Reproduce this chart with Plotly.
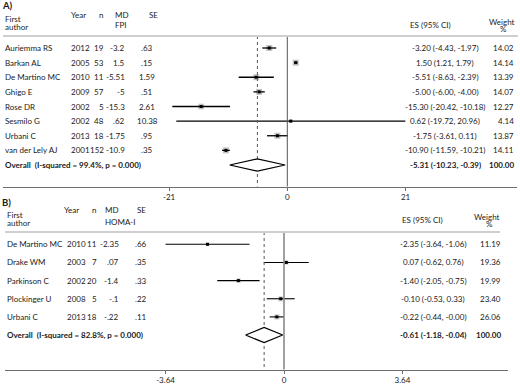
import plotly.graph_objects as go

W, H = 520, 386
FONT = "Lato"
FS = 8

# ---------------- Panel A data ----------------
authorsA = ["Auriemma RS", "Barkan AL", "De Martino MC", "Ghigo E", "Rose DR",
            "Sesmilo G", "Urbani C", "van der Lely AJ"]
yearA = ["2012", "2005", "2010", "2009", "2002", "2002", "2013", "2001"]
nA = ["19", "53", "11", "57", "5", "48", "18", "152"]
mdA = ["-3.2", "1.5", "-5.51", "-5", "-15.3", ".62", "-1.75", "-10.9"]
seA = [".63", ".15", "1.59", ".51", "2.61", "10.38", ".95", ".35"]
esA = [-3.20, 1.50, -5.51, -5.00, -15.30, 0.62, -1.75, -10.90]
loA = [-4.43, 1.21, -8.63, -6.00, -20.42, -19.72, -3.61, -11.59]
hiA = [-1.97, 1.79, -2.39, -4.00, -10.18, 20.96, 0.11, -10.21]
wA = [14.02, 14.14, 13.39, 14.07, 12.27, 4.14, 13.87, 14.11]
overallA = (-5.31, -10.23, -0.39)
overallA_label = "Overall  (I-squared = 99.4%, p = 0.000)"
ticksA = [-21, 0, 21]
ticklabelsA = ["-21", "0", "21"]

# ---------------- Panel B data ----------------
authorsB = ["De Martino MC", "Drake WM", "Parkinson C", "Plockinger U", "Urbani C"]
yearB = ["2010", "2003", "2002", "2008", "2013"]
nB = ["11", "7", "20", "5", "18"]
mdB = ["-2.35", ".07", "-1.4", "-.1", "-.22"]
seB = [".66", ".35", ".33", ".22", ".11"]
esB = [-2.35, 0.07, -1.40, -0.10, -0.22]
loB = [-3.64, -0.62, -2.05, -0.53, -0.44]
hiB = [-1.06, 0.76, -0.75, 0.33, -0.0]
wB = [11.19, 19.36, 19.99, 23.40, 26.06]
overallB = (-0.61, -1.18, -0.04)
overallB_label = "Overall  (I-squared = 82.8%, p = 0.000)"
ticksB = [-3.64, 0, 3.64]
ticklabelsB = ["-3.64", "0", "3.64"]

# ---------------- layout geometry (pixels) ----------------
def px(p):
    return p / W

def py(p):
    return 1 - p / H

# panel A: x zero at 287.3 px, 5.63 px/unit; rows from 48 px, 14.625 px apart
A = dict(x0=287.3, sx=5.63, r0=48.0, sr=14.625, xl=3, xr=517, sep=36, axis=186.5)
# panel B: x zero at 284 px, 32.55 px/unit; rows from 244 px, 18.15 px apart
B = dict(x0=284.0, sx=32.55, r0=244.3, sr=18.15, xl=5, xr=508, sep=232, axis=369.5)


def xrange_of(P):
    return [(P["xl"] - P["x0"]) / P["sx"], (P["xr"] - P["x0"]) / P["sx"]]


def yrange_of(P):
    return [(H - P["r0"]) / P["sr"], (0 - P["r0"]) / P["sr"]]


def row_of(P, p):
    return (p - P["r0"]) / P["sr"]


def fmt_es(e, l, h):
    return f"{e:.2f} ({l:.2f}, {h:.2f})"


fig = go.Figure()
annotations = []
shapes = []


def add_panel(P, xa, ya, authors, years, ns, mds, ses, es, lo, hi, w, overall,
              overall_label, box_k, box_color, zero_color, zero_width, cols, ci_width):
    rows = list(range(len(authors)))
    orow = len(authors)
    # boxes
    fig.add_trace(go.Scatter(
        x=es, y=rows, mode="markers", xaxis=xa, yaxis=ya,
        marker=dict(symbol="square", size=[box_k * v ** 0.5 for v in w],
                    color=box_color, line=dict(width=0)),
        hoverinfo="skip", showlegend=False))
    # CI lines
    xs, ys = [], []
    for r, l, h in zip(rows, lo, hi):
        xs += [l, h, None]
        ys += [r, r, None]
    fig.add_trace(go.Scatter(x=xs, y=ys, mode="lines", xaxis=xa, yaxis=ya,
                             line=dict(color="black", width=ci_width),
                             hoverinfo="skip", showlegend=False))
    # point estimates
    fig.add_trace(go.Scatter(x=es, y=rows, mode="markers", xaxis=xa, yaxis=ya,
                             marker=dict(symbol="square", size=3, color="black"),
                             hoverinfo="skip", showlegend=False))
    top = row_of(P, P["sep"])
    bot = row_of(P, P["axis"])
    # zero line
    fig.add_trace(go.Scatter(x=[0, 0], y=[top, bot], mode="lines", xaxis=xa, yaxis=ya,
                             line=dict(color=zero_color, width=zero_width),
                             hoverinfo="skip", showlegend=False))
    # overall dotted line
    fig.add_trace(go.Scatter(x=[overall[0], overall[0]], y=[top, bot], mode="lines",
                             xaxis=xa, yaxis=ya,
                             line=dict(color="#555555", width=1, dash="dot"),
                             hoverinfo="skip", showlegend=False))
    # diamond
    hh = 0.42
    e, l, h = overall
    fig.add_trace(go.Scatter(x=[l, e, h, e, l], y=[orow, orow - hh, orow, orow + hh, orow],
                             mode="lines", fill="toself", fillcolor="white",
                             xaxis=xa, yaxis=ya,
                             line=dict(color="black", width=1.2),
                             hoverinfo="skip", showlegend=False))
    yref = ya

    def txt(x, y, t, anchor, bold=False, size=FS):
        annotations.append(dict(x=px(x), xref="paper", y=y, yref=yref,
                                text=(f"<b>{t}</b>" if bold else t), showarrow=False,
                                xanchor=anchor, yanchor="middle",
                                font=dict(family=FONT, size=size, color="#1a1a1a")))
    for r in rows:
        txt(cols["author"], r, authors[r], "left")
        txt(cols["year"], r, years[r], "left")
        txt(cols["n"], r, ns[r], "right")
        txt(cols["md"], r, mds[r], "right")
        txt(cols["se"], r, ses[r], "center")
        txt(cols["es"], r, fmt_es(es[r], lo[r], hi[r]), "center")
        txt(cols["w"], r, f"{w[r]:.2f}", "right")
    txt(cols["author"], orow, overall_label, "left", bold=True)
    txt(cols["es"], orow, fmt_es(*overall), "center", bold=True)
    txt(cols["w"], orow, f"{100:.2f}", "right", bold=True)


colsA = dict(author=3, year=68.5, n=106, md=127, se=147, es=445, w=516)
colsB = dict(author=5, year=64.5, n=99, md=121, se=140.5, es=433, w=503)

add_panel(A, "x", "y", authorsA, yearA, nA, mdA, seA, esA, loA, hiA, wA, overallA,
          overallA_label, 1.6, "#a9a9a9", "#555555", 1, colsA, 1.3)
add_panel(B, "x2", "y2", authorsB, yearB, nB, mdB, seB, esB, loB, hiB, wB, overallB,
          overallB_label, 1.1, "#cfcfcf", "#8a8a8a", 1.6, colsB, 1.1)


def htxt(x, y, t, anchor="left", bold=False, size=FS):
    annotations.append(dict(x=px(x), xref="paper", y=py(y), yref="paper",
                            text=(f"<b>{t}</b>" if bold else t), showarrow=False,
                            xanchor=anchor, yanchor="middle",
                            font=dict(family=FONT, size=size, color="#1a1a1a")))


# Panel A headers
htxt(0, 5, "A)", bold=True, size=9.5)
htxt(3, 19, "First")
htxt(3, 27, "author")
htxt(69, 15, "Year")
htxt(97, 15, "n")
htxt(112.5, 15, "MD")
htxt(112.5, 25, "FPI")
htxt(147, 15, "SE")
htxt(408, 25, "ES (95% CI)")
htxt(517, 22, "Weight", anchor="right")
htxt(503.5, 28.5, "%", anchor="center")

# Panel B headers
htxt(0, 202, "B)", bold=True, size=9.5)
htxt(5, 214.5, "First")
htxt(5, 222.5, "author")
htxt(62, 210, "Year")
htxt(90, 210, "n")
htxt(103, 210, "MD")
htxt(103, 222, "HOMA-I")
htxt(134.5, 210, "SE")
htxt(400, 220, "ES (95% CI)")
htxt(502, 217, "Weight", anchor="right")
htxt(489.5, 224.5, "%", anchor="center")

# header separators
shapes.append(dict(type="line", xref="paper", yref="paper", x0=px(3), x1=px(518),
                   y0=py(A["sep"]), y1=py(A["sep"]), line=dict(color="#cfcfcf", width=2)))
shapes.append(dict(type="line", xref="paper", yref="paper", x0=px(5), x1=px(500),
                   y0=py(B["sep"]), y1=py(B["sep"]), line=dict(color="#cfcfcf", width=2)))

axis_common = dict(showgrid=False, zeroline=False, showline=True, linecolor="#6e6e6e",
                   linewidth=1, ticks="outside", ticklen=3, tickcolor="#6e6e6e",
                   tickfont=dict(family=FONT, size=FS, color="#1a1a1a"), anchor="free")

fig.update_layout(
    width=W, height=H, margin=dict(l=0, r=0, t=0, b=0),
    paper_bgcolor="white", plot_bgcolor="rgba(0,0,0,0)",
    showlegend=False,
    xaxis=dict(domain=[px(A["xl"]), px(A["xr"])], range=xrange_of(A),
               position=py(A["axis"]), tickvals=ticksA, ticktext=ticklabelsA, **axis_common),
    yaxis=dict(domain=[0, 1], range=yrange_of(A), visible=False),
    xaxis2=dict(domain=[px(B["xl"]), px(B["xr"])], range=xrange_of(B),
                position=py(B["axis"]), tickvals=ticksB, ticktext=ticklabelsB, **axis_common),
    yaxis2=dict(domain=[0, 1], range=yrange_of(B), visible=False, anchor="x2"),
    annotations=annotations,
    shapes=shapes,
)

fig.write_html("out.html", config={"displayModeBar": False},
               post_script="document.body.style.margin='0';document.body.style.padding='0';")
